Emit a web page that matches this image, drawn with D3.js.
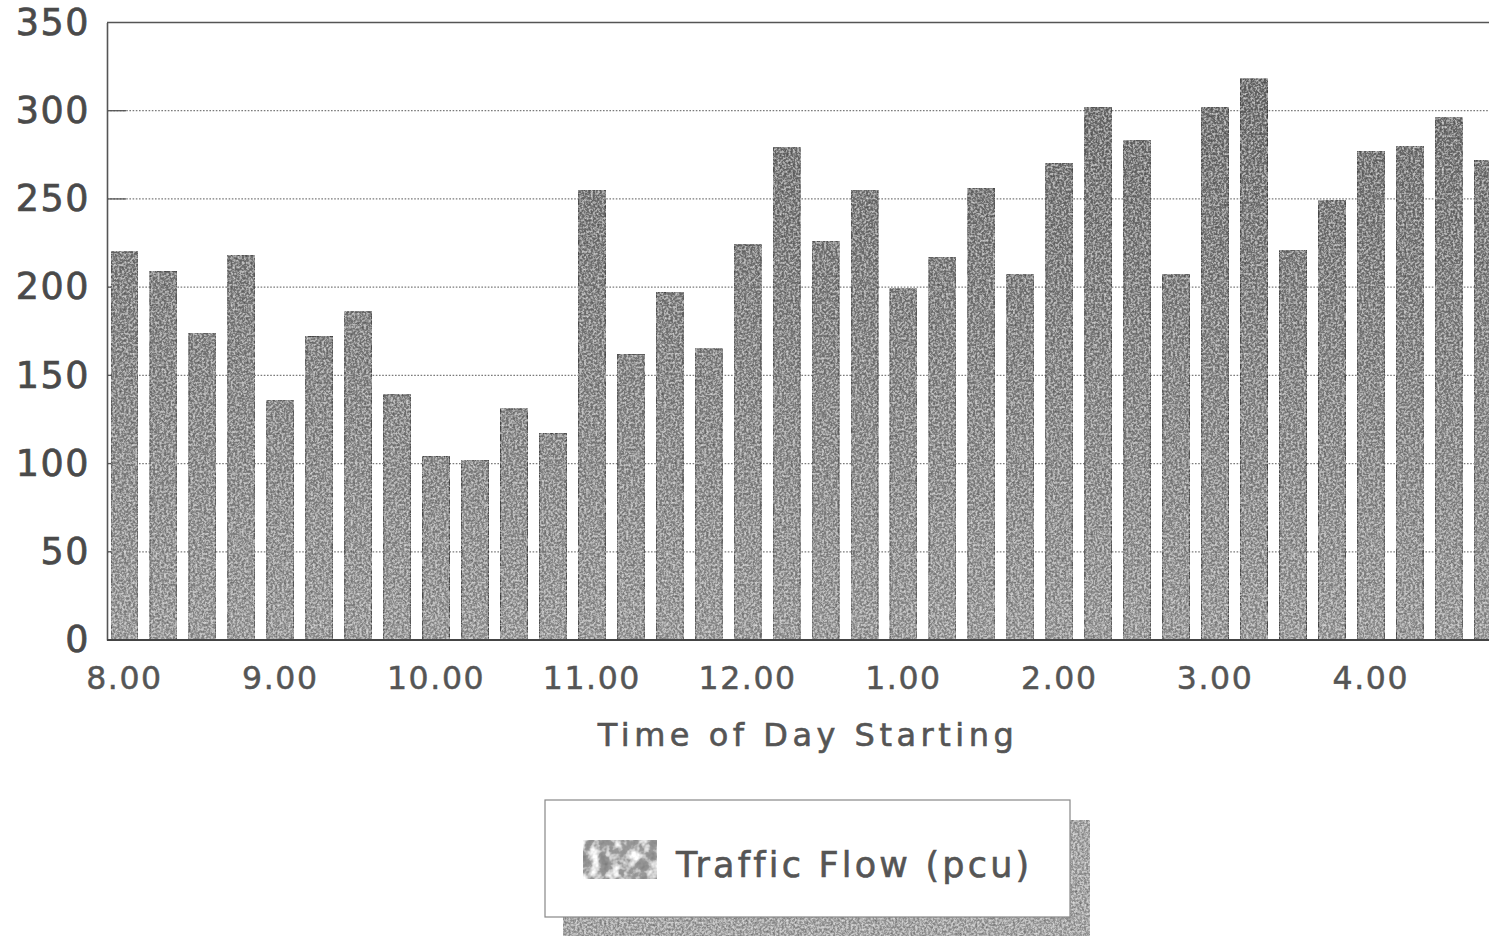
<!DOCTYPE html>
<html>
<head>
<meta charset="utf-8">
<script src="https://cdn.jsdelivr.net/npm/d3@7/dist/d3.min.js"></script>
<style>
  html, body { margin: 0; padding: 0; background: #fff; }
  svg { display: block; }
  text { font-family: "DejaVu Sans", Verdana, sans-serif; }
</style>
</head>
<body>
<svg id="chart" width="1489" height="936"></svg>
<script>
// Fifteen-minute counting periods
const times = [
  "8.00","8.15","8.30","8.45","9.00","9.15","9.30","9.45",
  "10.00","10.15","10.30","10.45","11.00","11.15","11.30","11.45",
  "12.00","12.15","12.30","12.45","1.00","1.15","1.30","1.45",
  "2.00","2.15","2.30","2.45","3.00","3.15","3.30","3.45",
  "4.00","4.15","4.30","4.45"
];
// Traffic flow per period (pcu)
const flow = [
  220, 209, 174, 218, 136, 172, 186, 139,
  104, 102, 131, 117, 255, 162, 197, 165,
  224, 279, 226, 255, 199, 217, 256, 207,
  270, 302, 283, 207, 302, 318, 221, 249,
  277, 280, 296, 272
];
const hourTicks = ["8.00","9.00","10.00","11.00","12.00","1.00","2.00","3.00","4.00"];
const yTicks = [0, 50, 100, 150, 200, 250, 300, 350];
const axisTitle = "Time of Day Starting";
const seriesName = "Traffic Flow (pcu)";

const W = 1489, H = 936;
const svg = d3.select("#chart");
const left = 107, baseY = 640, topY = 22.5;

const x = d3.scaleBand().domain(times).range([111, 1501.2]).paddingInner(0.308).paddingOuter(0);
const y = d3.scaleLinear().domain([0, 350]).range([baseY, topY]);

// ---- defs: shading and grain ----
const defs = svg.append("defs");
const grad = defs.append("linearGradient").attr("id", "barShade")
  .attr("gradientUnits", "userSpaceOnUse").attr("x1", 0).attr("x2", 0)
  .attr("y1", topY).attr("y2", baseY);
grad.append("stop").attr("offset", "0%").attr("stop-color", "#6c6c6c");
grad.append("stop").attr("offset", "100%").attr("stop-color", "#9e9e9e");

function grainFilter(id, freq, seed, dark, light) {
  const f = defs.append("filter").attr("id", id)
    .attr("x", "0").attr("y", "0").attr("width", "100%").attr("height", "100%");
  f.append("feTurbulence").attr("type", "fractalNoise").attr("baseFrequency", freq)
    .attr("numOctaves", 3).attr("seed", seed).attr("result", "t");
  f.append("feColorMatrix").attr("in", "t").attr("type", "matrix")
    .attr("values", `0 0 0 0 0  0 0 0 0 0  0 0 0 0 0  ${dark} 0 0 0 ${-dark * 0.42}`)
    .attr("result", "d");
  f.append("feColorMatrix").attr("in", "t").attr("type", "matrix")
    .attr("values", `0 0 0 0 1  0 0 0 0 1  0 0 0 0 1  ${-light} 0 0 0 ${light * 0.55}`)
    .attr("result", "l");
  f.append("feComposite").attr("in", "d").attr("in2", "SourceGraphic").attr("operator", "in").attr("result", "d2");
  f.append("feComposite").attr("in", "l").attr("in2", "SourceGraphic").attr("operator", "in").attr("result", "l2");
  const m = f.append("feMerge");
  m.append("feMergeNode").attr("in", "SourceGraphic");
  m.append("feMergeNode").attr("in", "d2");
  m.append("feMergeNode").attr("in", "l2");
}
grainFilter("grain", 0.45, 4, 1.3, 1.3);
grainFilter("grainSoft", 0.1, 9, 1.0, 3.0);

svg.append("rect").attr("width", W).attr("height", H).attr("fill", "#fff");

// ---- gridlines (dotted) with short solid ticks ----
const inner = yTicks.filter(d => d > 0 && d < 350);
const grid = svg.append("g");
grid.selectAll("line.g").data(inner).join("line")
  .attr("x1", left).attr("x2", W).attr("y1", d => y(d)).attr("y2", d => y(d))
  .attr("stroke", "#7a7a7a").attr("stroke-width", 1.2).attr("stroke-dasharray", "1.6,1.6");
grid.selectAll("line.t").data(inner).join("line")
  .attr("x1", left).attr("x2", left + 19).attr("y1", d => y(d)).attr("y2", d => y(d))
  .attr("stroke", "#555").attr("stroke-width", 1.3);
// top frame line
svg.append("line").attr("x1", left).attr("x2", W).attr("y1", topY).attr("y2", topY)
  .attr("stroke", "#555").attr("stroke-width", 1.6);

// ---- bars ----
svg.append("g").selectAll("rect").data(times).join("rect")
  .attr("x", d => x(d))
  .attr("width", x.bandwidth())
  .attr("y", (d, i) => y(flow[i]))
  .attr("height", (d, i) => baseY - y(flow[i]))
  .attr("fill", "url(#barShade)")
  .attr("stroke", "#555").attr("stroke-width", 1)
  .attr("filter", "url(#grain)");

// ---- axes ----
const yAxis = svg.append("g").attr("transform", `translate(${left},0)`)
  .call(d3.axisLeft(y).tickValues(yTicks).tickSize(0).tickPadding(17));
yAxis.select(".domain").attr("stroke", "#555").attr("stroke-width", 1.6);
yAxis.selectAll("text").attr("font-size", 36.5).attr("fill", "#4a4a4a")
  .attr("stroke", "#4a4a4a").attr("stroke-width", 0.7)
  .attr("letter-spacing", 1.5).attr("font-family", "'DejaVu Sans', sans-serif");

const xAxis = svg.append("g").attr("transform", `translate(0,${baseY})`)
  .call(d3.axisBottom(x).tickValues(hourTicks).tickSize(0).tickPadding(27));
xAxis.select(".domain").remove();
xAxis.selectAll("text").attr("font-size", 31.5).attr("fill", "#555")
  .attr("stroke", "#555").attr("stroke-width", 0.5)
  .attr("letter-spacing", 1.6).attr("font-family", "'DejaVu Sans', sans-serif");
svg.append("line").attr("x1", left).attr("x2", W).attr("y1", baseY).attr("y2", baseY)
  .attr("stroke", "#444").attr("stroke-width", 2);

// x axis title
svg.append("text").attr("x", 808).attr("y", 746).attr("text-anchor", "middle")
  .attr("font-size", 32).attr("letter-spacing", 4.5).attr("fill", "#555")
  .attr("stroke", "#555").attr("stroke-width", 0.6)
  .text(axisTitle);

// ---- legend ----
const lg = svg.append("g");
lg.append("rect").attr("x", 563).attr("y", 820).attr("width", 527).attr("height", 130)
  .attr("fill", "#a8a8a8").attr("filter", "url(#grain)");
lg.append("rect").attr("x", 545).attr("y", 800).attr("width", 525).attr("height", 117)
  .attr("fill", "#fff").attr("stroke", "#888").attr("stroke-width", 1.2);
lg.append("rect").attr("x", 583).attr("y", 840).attr("width", 74).attr("height", 39)
  .attr("fill", "#a4a4a4").attr("filter", "url(#grainSoft)");
lg.append("text").attr("x", 676).attr("y", 877).attr("font-size", 35)
  .attr("letter-spacing", 3.2).attr("fill", "#555")
  .attr("stroke", "#555").attr("stroke-width", 0.6)
  .text(seriesName);
</script>
</body>
</html>
